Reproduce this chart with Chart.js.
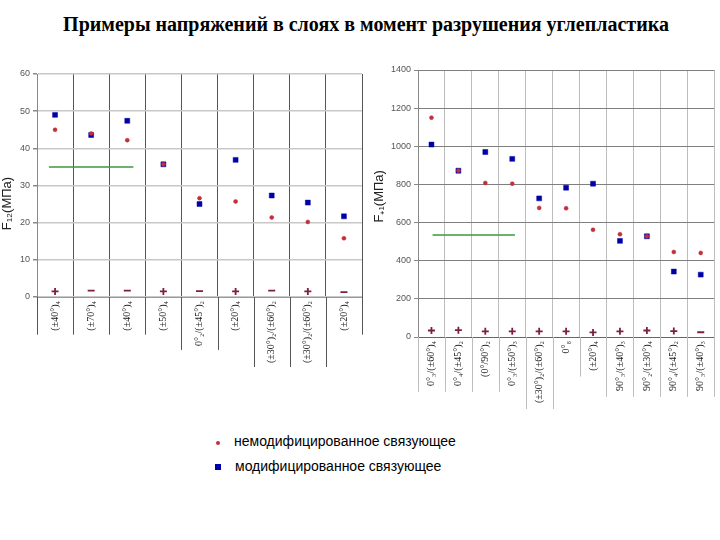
<!DOCTYPE html>
<html>
<head>
<meta charset="utf-8">
<script src="https://cdn.jsdelivr.net/npm/chart.js@4/dist/chart.umd.min.js"></script>
<style>
  html, body { margin: 0; padding: 0; background: #fff; }
  body { width: 720px; height: 540px; position: relative; overflow: hidden; }
  #title { position: absolute; left: 0; top: 13px; width: 732px; text-align: center;
    font: bold 20px "Liberation Serif", "Times New Roman", serif; color: #000; }
  #cL { position: absolute; left: 0; top: 60px; }
  #cR { position: absolute; left: 372px; top: 55px; }
  .leg { position: absolute; font: 14px "Liberation Sans", Arial, sans-serif; color: #000; }
  .mk { position: absolute; }
</style>
</head>
<body>
<div id="title">Примеры напряжений в слоях в момент разрушения углепластика</div>
<canvas id="cL" width="370" height="320"></canvas>
<canvas id="cR" width="348" height="365"></canvas>
<div class="mk" style="left:216px;top:441px;width:4px;height:4px;border-radius:2px;background:#c0303a;"></div>
<div class="leg" style="left:234px;top:433px;">немодифицированное связующее</div>
<div class="mk" style="left:215px;top:464px;width:6px;height:6px;background:#0000a8;"></div>
<div class="leg" style="left:235px;top:458px;">модифицированное связующее</div>
<script>
// ---------- data: left panel (F12) ----------
const leftLabels = ['(±40°)₄', '(±70°)₄', '(±40°)₄', '(±50°)₄', '0°₂/(±45°)₂', '(±20°)₄',
  '(±30°)₂/(±60°)₂', '(±30°)₂/(±60°)₂', '(±20°)₄'];
const leftUnmod = [45.0, 44.0, 42.2, 35.7, 26.6, 25.7, 21.4, 20.2, 15.8];
const leftMod   = [49.0, 43.6, 47.4, 35.7, 25.0, 36.9, 27.3, 25.4, 21.7];
const leftSigns = ['+', '−', '−', '+', '−', '+', '−', '+', '−'];
const leftSignY = [1.5, 1.7, 1.7, 1.5, 1.6, 1.5, 1.7, 1.5, 1.3];
const leftRef = 35;
const leftRefSpan = [-0.17, 2.17];
const leftTicks = { min: 0, max: 60, step: 10 };

// ---------- data: right panel (F+1) ----------
const rightLabels = ['0°₃/(±60°)₄', '0°₄/(±45°)₂', '(0°/90°)₂', '0°₃/(±50°)₃', '(±30°)₂/(±60°)₂',
  '0°₈', '(±20°)₄', '90°₃/(±40°)₃', '90°₂/(±30°)₄', '90°₄/(±45°)₂', '90°₃/(±40°)₃'];
const rightUnmod = [1150, 872, 808, 804, 677, 675, 562, 539, 528, 446, 441];
const rightMod   = [1009, 872, 970, 934, 727, 783, 804, 504, 528, 343, 327];
const rightSigns = ['+', '+', '+', '+', '+', '+', '+', '+', '+', '+', '−'];
const rightSignY = [34, 36, 30, 30, 30, 30, 24, 30, 34, 31, 25];
const rightRef = 535;
const rightRefSpan = [0.04, 3.1];
const rightTicks = { min: 0, max: 1400, step: 200 };

const RED = '#c0303a', BLUE = '#0000a8', SIGN = '#7a1f45', GREEN = '#3a9a3a';
const LABEL_FONT = { family: '"Liberation Serif", "Times New Roman", serif', size: 10 };

const extendLines = {
  id: 'extendLines',
  afterDraw(chart, args, opts) {
    const x2 = chart.scales.x2, ctx = chart.ctx;
    const labels = chart.data.labels;
    ctx.save();
    ctx.font = LABEL_FONT.size + 'px ' + LABEL_FONT.family;
    const w = labels.map(l => ctx.measureText(l).width);
    ctx.strokeStyle = opts.color;
    ctx.lineWidth = 1;
    const bottom = chart.chartArea.bottom;
    for (let j = 0; j <= labels.length; j++) {
      const x = Math.round(x2.getPixelForValue(j - 0.5)) + 0.5;
      const a = j > 0 ? w[j - 1] : 0, b = j < labels.length ? w[j] : 0;
      const len = Math.max(a, b) + opts.pad;
      ctx.beginPath();
      ctx.moveTo(x, bottom);
      ctx.lineTo(x, bottom + len);
      ctx.stroke();
    }
    ctx.restore();
  }
};

function makeChart(id, cfg) {
  const n = cfg.labels.length;
  return new Chart(document.getElementById(id), {
    type: 'line',
    data: {
      labels: cfg.labels,
      datasets: [
        { label: 'ref', data: [{ x: cfg.refSpan[0], y: cfg.ref }, { x: cfg.refSpan[1], y: cfg.ref }],
          xAxisID: 'x2', borderColor: GREEN, borderWidth: 1.5, pointRadius: 0, showLine: true, order: 4 },
        { label: 'модифицированное связующее', data: cfg.mod, xAxisID: 'x', showLine: false,
          pointStyle: 'rect', pointRadius: 3.5, backgroundColor: BLUE, borderColor: BLUE, borderWidth: 0.5, order: 3 },
        { label: 'немодифицированное связующее', data: cfg.unmod, xAxisID: 'x', showLine: false,
          pointStyle: 'circle', pointRadius: 2, backgroundColor: RED, borderColor: RED, borderWidth: 0.5, order: 2 },
        { label: 'signs', data: cfg.signY, xAxisID: 'x', showLine: false,
          pointStyle: cfg.signs.map(s => s === '+' ? 'cross' : 'line'),
          pointRadius: 3.5, borderColor: SIGN, backgroundColor: SIGN, borderWidth: 1.8, order: 1 }
      ]
    },
    options: {
      responsive: false, animation: false, events: [],
      layout: { padding: cfg.padding },
      plugins: { legend: { display: false }, tooltip: { enabled: false },
        extendLines: { color: cfg.vColor, pad: cfg.extPad } },
      scales: {
        x: {
          type: 'category', offset: true,
          grid: { offset: true, color: cfg.vColor, lineWidth: 1, drawTicks: false },
          border: { color: cfg.axisColor, width: 1 },
          ticks: { autoSkip: false, minRotation: 90, maxRotation: 90, padding: cfg.labelPad,
            font: LABEL_FONT, color: '#222' },
          afterFit: s => { s.height = cfg.xHeight; }
        },
        x2: { type: 'linear', display: false, min: -0.5, max: n - 0.5 },
        y: {
          min: cfg.ticks.min, max: cfg.ticks.max,
          ticks: { stepSize: cfg.ticks.step, font: { family: '"Liberation Sans", Arial, sans-serif', size: 9 },
            color: '#555', padding: 3, callback: v => String(v) },
          grid: { color: cfg.hColor, lineWidth: cfg.hWidth, tickLength: 4, tickColor: '#888' },
          border: { color: '#888', width: 1 },
          title: { display: true, text: cfg.yTitle, color: '#222', padding: 0,
            font: { family: '"Liberation Sans", Arial, sans-serif', size: 13 } },
          afterFit: s => { s.width = cfg.yWidth; }
        }
      }
    },
    plugins: [extendLines]
  });
}

makeChart('cL', {
  labels: leftLabels, mod: leftMod, unmod: leftUnmod, signs: leftSigns, signY: leftSignY,
  ref: leftRef, refSpan: leftRefSpan, ticks: leftTicks, yTitle: 'F₁₂(МПа)          ',
  padding: { top: 14, right: 8, left: 0, bottom: 0 }, yWidth: 37, xHeight: 83,
  vColor: '#555', hColor: '#c8c8c8', hWidth: 1.5, axisColor: '#999', labelPad: 4, extPad: 8
});
makeChart('cR', {
  labels: rightLabels, mod: rightMod, unmod: rightUnmod, signs: rightSigns, signY: rightSignY,
  ref: rightRef, refSpan: rightRefSpan, ticks: rightTicks, yTitle: '    F₊₁(МПа)',
  padding: { top: 15, right: 3, left: 0, bottom: 0 }, yWidth: 46, xHeight: 83,
  vColor: '#bdbdbd', hColor: '#7f7f7f', hWidth: 1, axisColor: '#666', labelPad: 4, extPad: 10
});
</script>
</body>
</html>
